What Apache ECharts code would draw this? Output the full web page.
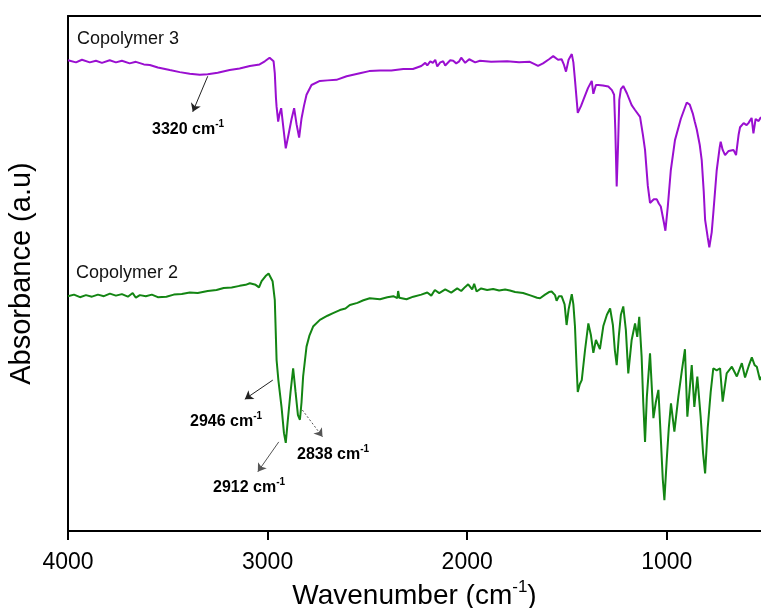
<!DOCTYPE html>
<html>
<head>
<meta charset="utf-8">
<script src="https://cdn.jsdelivr.net/npm/echarts@6/dist/echarts.min.js"></script>
<style>
  html, body { margin: 0; padding: 0; background: #fff; }
  #chart { width: 761px; height: 608px; }
</style>
</head>
<body>
<div id="chart"></div>
<script>
// [wavenumber (cm-1), absorbance (a.u.)]
const copolymer3 = [
  [4000, 91.4], [3960, 91.0], [3930, 91.5], [3891, 91.0], [3860, 91.3], [3830, 90.9],
  [3791, 91.4], [3760, 91.0], [3730, 91.3], [3691, 90.8], [3660, 91.1], [3620, 90.6],
  [3590, 90.5], [3550, 90.0], [3490, 89.5], [3440, 89.1], [3390, 88.8], [3340, 88.6],
  [3300, 88.7], [3250, 89.0], [3190, 89.5], [3140, 89.8], [3089, 90.3], [3040, 90.6],
  [3014, 91.2], [2990, 91.9], [2980, 92.0], [2970, 91.2], [2964, 88.9], [2958, 84.0],
  [2955, 82.4], [2947, 79.5], [2940, 81.0], [2932, 82.1], [2920, 78.0], [2909, 74.3],
  [2895, 77.0], [2880, 80.0], [2867, 82.1], [2855, 79.0], [2842, 76.4], [2830, 80.1],
  [2818, 82.5], [2805, 84.7], [2780, 86.6], [2738, 87.4], [2700, 87.5], [2655, 87.6],
  [2604, 88.3], [2538, 88.9], [2491, 89.3], [2437, 89.4], [2380, 89.4], [2320, 89.7],
  [2272, 89.7], [2230, 90.3], [2210, 90.9], [2200, 90.4], [2185, 91.2], [2172, 90.9],
  [2160, 91.5], [2150, 90.2], [2135, 91.0], [2120, 91.2], [2110, 90.4], [2100, 90.3],
  [2085, 91.4], [2070, 91.3], [2055, 90.8], [2040, 91.2], [2030, 91.9], [2021, 91.7],
  [2010, 90.9], [2000, 90.8], [1990, 91.6], [1980, 91.3], [1960, 91.0], [1936, 91.3],
  [1880, 91.1], [1800, 91.2], [1740, 91.0], [1686, 91.1], [1660, 90.6],
  [1645, 90.3], [1620, 90.8], [1590, 91.6], [1569, 92.2], [1545, 91.5], [1527, 91.6],
  [1515, 90.5], [1505, 89.2], [1492, 91.5], [1476, 92.6], [1468, 91.0], [1460, 87.6],
  [1446, 81.2], [1430, 82.5], [1418, 83.7], [1395, 86.0], [1376, 87.4], [1368, 84.9],
  [1355, 86.6], [1343, 86.6], [1320, 86.5], [1293, 86.3], [1275, 85.6], [1264, 84.7],
  [1258, 78.0], [1251, 66.9], [1244, 75.0], [1238, 83.7], [1230, 85.8], [1218, 86.4],
  [1200, 85.0], [1176, 82.7], [1160, 81.8], [1134, 80.4], [1120, 77.0], [1109, 74.0],
  [1095, 67.0], [1084, 63.7], [1065, 64.4], [1050, 64.4], [1040, 63.6], [1030, 63.0],
  [1015, 60.0], [1007, 58.3], [995, 63.0], [980, 70.0], [959, 75.9], [930, 80.0],
  [900, 83.2], [885, 82.8], [870, 81.1], [860, 79.5], [850, 78.0], [835, 75.0],
  [825, 72.0], [815, 66.0], [808, 60.4], [795, 57.0], [787, 55.1], [775, 58.0],
  [767, 61.7], [750, 70.0], [735, 74.5], [730, 75.6], [720, 74.0], [708, 73.0],
  [690, 73.8], [666, 74.0], [653, 73.0], [640, 77.0], [633, 78.4], [615, 79.2],
  [600, 78.8], [591, 79.2], [575, 80.2], [566, 77.2], [555, 80.0], [540, 79.6],
  [528, 80.4]
];

const copolymer2 = [
  [4000, 45.6], [3970, 45.9], [3940, 45.4], [3910, 45.8], [3880, 45.5], [3850, 45.9],
  [3820, 45.6], [3790, 46.1], [3760, 45.7], [3730, 46.0], [3700, 45.5], [3676, 46.2],
  [3660, 45.3], [3640, 45.8], [3610, 45.6], [3580, 45.9], [3550, 45.4], [3507, 45.5],
  [3470, 45.9], [3430, 46.0], [3390, 46.3], [3350, 46.2], [3300, 46.6], [3256, 46.8],
  [3220, 47.2], [3180, 47.3], [3140, 47.6], [3110, 47.8], [3089, 48.1], [3060, 47.8],
  [3043, 47.3], [3030, 48.5], [3010, 49.5], [2995, 50.0], [2985, 50.3], [2975, 48.5],
  [2964, 44.9], [2955, 33.2], [2946, 29.3], [2942, 29.0], [2930, 24.0], [2918, 19.0],
  [2909, 17.1], [2900, 21.0], [2885, 27.0], [2872, 31.6], [2860, 27.0], [2848, 22.5],
  [2838, 21.6], [2830, 25.0], [2822, 30.0], [2805, 35.8], [2790, 38.0], [2772, 39.7],
  [2738, 41.0], [2700, 41.8], [2672, 42.3], [2638, 42.9], [2610, 43.2], [2588, 43.9],
  [2550, 44.3], [2520, 44.8], [2488, 45.2], [2437, 45.0], [2400, 45.4], [2370, 45.6],
  [2350, 45.2], [2346, 46.6], [2340, 45.3], [2304, 45.0], [2270, 45.5], [2230, 45.9],
  [2200, 46.3], [2180, 45.7], [2162, 46.8], [2140, 46.2], [2110, 46.9], [2080, 46.3],
  [2050, 47.1], [2030, 46.6], [2010, 47.4], [1995, 47.9], [1986, 47.6], [1975, 46.9],
  [1965, 48.0], [1953, 46.5], [1930, 47.1], [1900, 46.8], [1870, 47.0], [1840, 46.7],
  [1810, 46.9], [1786, 46.7], [1760, 46.4], [1720, 46.2], [1680, 45.7], [1650, 45.3],
  [1635, 45.2], [1610, 45.9], [1590, 46.4], [1577, 46.5], [1560, 45.8], [1552, 44.7],
  [1540, 45.6], [1527, 45.6], [1512, 44.0], [1502, 40.0], [1492, 43.0], [1476, 46.0],
  [1468, 44.0], [1460, 39.7], [1452, 32.0], [1446, 27.0], [1436, 28.5], [1426, 29.3],
  [1410, 35.0], [1393, 40.3], [1380, 38.0], [1368, 34.6], [1355, 37.1], [1335, 35.3],
  [1318, 39.8], [1300, 42.0], [1284, 43.2], [1270, 40.0], [1260, 35.0], [1251, 32.2],
  [1240, 38.0], [1230, 42.0], [1218, 43.6], [1205, 39.0], [1193, 30.6], [1176, 37.1],
  [1159, 40.3], [1148, 37.7], [1138, 41.6], [1126, 33.8], [1118, 25.0], [1109, 17.3],
  [1100, 26.0], [1084, 34.5], [1067, 21.9], [1055, 25.0], [1042, 27.4], [1030, 18.0],
  [1020, 10.0], [1012, 6.0], [1000, 14.0], [990, 20.0], [979, 24.8], [962, 19.3],
  [942, 26.1], [925, 31.0], [909, 35.3], [897, 22.2], [875, 32.2], [862, 24.1],
  [847, 30.0], [830, 22.0], [818, 15.0], [808, 11.2], [795, 20.0], [780, 27.0],
  [767, 31.6], [750, 31.2], [733, 31.6], [720, 25.1], [700, 30.6], [674, 31.9],
  [649, 30.0], [624, 32.6], [608, 29.8], [590, 32.0], [574, 33.7], [560, 32.2],
  [549, 31.9], [533, 29.3], [528, 30.0]
];

const xTicks = [1000, 2000, 3000, 4000];

const FONT = "'Liberation Sans', Arial, sans-serif";

// arrows pointing from the peaks to their labels
const arrows3 = [
  [{ coord: [3300, 88.3] }, { coord: [3375, 81.4] }]
];
const arrows2 = [
  [{ coord: [2974, 29.3], lineStyle: { color: '#222' } }, { coord: [3114, 25.6] }],
  [{ coord: [2944, 17.3], lineStyle: { color: '#555' } }, { coord: [3049, 11.5] }],
  [{ coord: [2826, 23.5], lineStyle: { color: '#555', type: [2, 2] } }, { coord: [2725, 18.3] }]
];

const labelRich = {
  b: { fontSize: 16, fontWeight: 'bold', fontFamily: FONT, color: '#111' },
  s: { fontSize: 10, fontWeight: 'bold', fontFamily: FONT, color: '#111', verticalAlign: 'top', lineHeight: 22 }
};

function peakText(x, y, wn) {
  return {
    type: 'text', x: x, y: y, silent: true,
    style: { text: '{b|' + wn + ' cm}{s|-1}', rich: labelRich, verticalAlign: 'middle' }
  };
}

const chart = echarts.init(document.getElementById('chart'));
chart.setOption({
  animation: false,
  backgroundColor: '#fff',
  grid: { left: 68, top: 16, right: 0, bottom: 77, outerBoundsMode: 'none' },
  xAxis: [
    {
      type: 'value', min: 528, max: 4000, inverse: true,
      axisLine: { lineStyle: { color: '#000', width: 2 } },
      axisTick: { customValues: xTicks, length: 9, lineStyle: { color: '#000', width: 2 } },
      axisLabel: {
        customValues: xTicks, fontSize: 23, color: '#000', fontFamily: FONT, margin: 20,
        formatter: (v) => String(v)
      },
      splitLine: { show: false },
      name: '{t|Wavenumber (cm}{s|-1}{t|)}',
      nameLocation: 'middle', nameGap: 41,
      nameTextStyle: {
        rich: {
          t: { fontSize: 28, color: '#000', fontFamily: FONT },
          s: { fontSize: 17, color: '#000', fontFamily: FONT, verticalAlign: 'top', lineHeight: 35 }
        }
      }
    },
    {
      // top frame line
      type: 'value', position: 'top', min: 528, max: 4000, inverse: true,
      axisLine: { lineStyle: { color: '#000', width: 2 } },
      axisTick: { show: false }, axisLabel: { show: false }, splitLine: { show: false }
    }
  ],
  yAxis: {
    type: 'value', min: 0, max: 100,
    axisLine: { show: true, lineStyle: { color: '#000', width: 2 } },
    axisTick: { show: false }, axisLabel: { show: false },
    splitLine: { show: false },
    name: 'Absorbance (a.u)', nameLocation: 'middle', nameGap: 32,
    nameTextStyle: { fontSize: 29, color: '#000', fontFamily: FONT }
  },
  series: [
    {
      name: 'Copolymer 3', type: 'line', data: copolymer3, showSymbol: false,
      lineStyle: { color: '#9a0fd0', width: 2 }, itemStyle: { color: '#9a0fd0' },
      markLine: {
        silent: true, symbol: ['none', 'arrow'], symbolSize: 8,
        lineStyle: { color: '#222', width: 1, type: 'solid' },
        label: { show: false }, data: arrows3
      }
    },
    {
      name: 'Copolymer 2', type: 'line', data: copolymer2, showSymbol: false,
      lineStyle: { color: '#138513', width: 2 }, itemStyle: { color: '#138513' },
      markLine: {
        silent: true, symbol: ['none', 'arrow'], symbolSize: 8,
        lineStyle: { color: '#222', width: 1, type: 'solid' },
        label: { show: false }, data: arrows2
      }
    }
  ],
  graphic: [
    { type: 'text', x: 77, y: 39, silent: true,
      style: { text: 'Copolymer 3', fontSize: 18, fontFamily: FONT, fill: '#111', verticalAlign: 'middle' } },
    { type: 'text', x: 76, y: 273, silent: true,
      style: { text: 'Copolymer 2', fontSize: 18, fontFamily: FONT, fill: '#111', verticalAlign: 'middle' } },
    peakText(152, 130, 3320),
    peakText(190, 422, 2946),
    peakText(297, 455, 2838),
    peakText(213, 488, 2912)
  ]
});
</script>
</body>
</html>
